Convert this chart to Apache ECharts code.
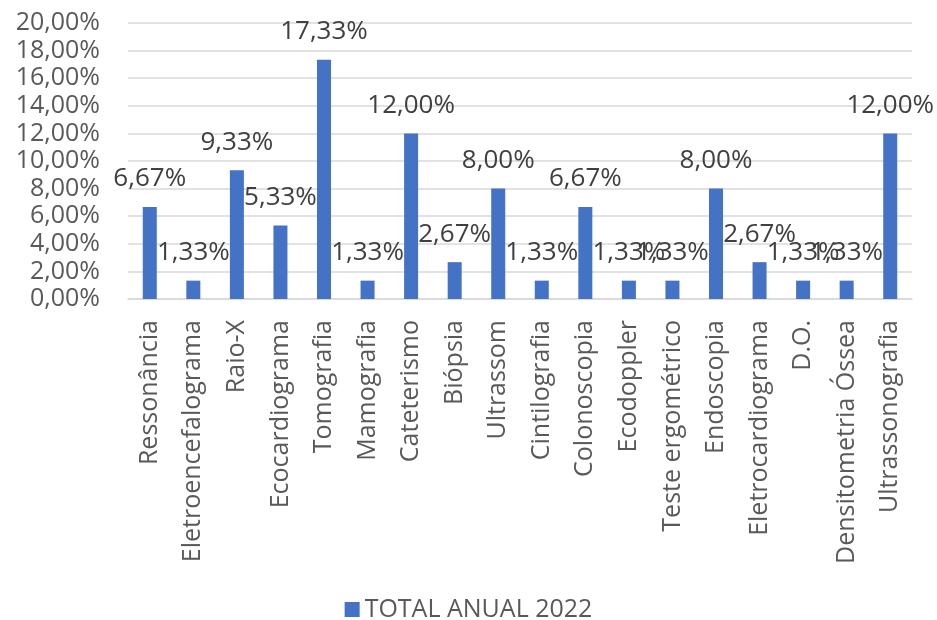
<!DOCTYPE html>
<html>
<head>
<meta charset="utf-8">
<script src="https://cdn.jsdelivr.net/npm/echarts@6/dist/echarts.min.js"></script>
<style>
  html, body { margin: 0; padding: 0; background: #fff; }
  #chart { width: 937px; height: 620px; }
</style>
</head>
<body>
<div id="chart"></div>
<script>
// Exam types and their share of the 2022 annual total (percent)
const categories = [
  'Ressonância', 'Eletroencefalograma', 'Raio-X', 'Ecocardiograma', 'Tomografia',
  'Mamografia', 'Cateterismo', 'Biópsia', 'Ultrassom', 'Cintilografia',
  'Colonoscopia', 'Ecodoppler', 'Teste ergométrico', 'Endoscopia',
  'Eletrocardiograma', 'D.O.', 'Densitometria Óssea', 'Ultrassonografia'
];
const totalAnual2022 = [
  6.67, 1.33, 9.33, 5.33, 17.33, 1.33, 12.00, 2.67, 8.00, 1.33,
  6.67, 1.33, 1.33, 8.00, 2.67, 1.33, 1.33, 12.00
];
const seriesName = 'TOTAL ANUAL 2022';
const yTicks = { min: 0, max: 20, interval: 2 };

const pct = v => v.toFixed(2).replace('.', ',') + '%';
const FONT = 'Open Sans';

const chart = echarts.init(document.getElementById('chart'), null, { renderer: 'canvas' });
chart.setOption({
  animation: false,
  textStyle: { fontFamily: FONT },
  grid: { left: 128, right: 25, top: 23, bottom: 321, containLabel: false },
  legend: {
    top: 592,
    left: 'center',
    icon: 'rect',
    itemWidth: 15,
    itemHeight: 15,
    itemGap: 8,
    textStyle: { fontFamily: FONT, fontSize: 25, color: '#595959' },
    data: [seriesName]
  },
  xAxis: {
    type: 'category',
    data: categories,
    axisLine: { lineStyle: { color: '#d9d9d9', width: 1.5 } },
    axisTick: { show: false },
    axisLabel: {
      rotate: 90,
      interval: 0,
      margin: 21,
      fontFamily: FONT,
      fontSize: 25,
      color: '#595959'
    }
  },
  yAxis: {
    type: 'value',
    min: yTicks.min,
    max: yTicks.max,
    interval: yTicks.interval,
    axisLine: { show: false },
    axisTick: { show: false },
    splitLine: { lineStyle: { color: '#d9d9d9', width: 1.5 } },
    axisLabel: {
      margin: 28,
      fontFamily: FONT,
      fontSize: 25,
      color: '#595959',
      formatter: v => pct(v)
    }
  },
  series: [{
    name: seriesName,
    type: 'bar',
    data: totalAnual2022,
    barWidth: 14,
    itemStyle: { color: '#4472c4' },
    label: {
      show: true,
      position: 'top',
      distance: 15,
      fontFamily: FONT,
      fontSize: 26,
      color: '#404040',
      formatter: p => pct(p.value)
    }
  }]
});
</script>
</body>
</html>
